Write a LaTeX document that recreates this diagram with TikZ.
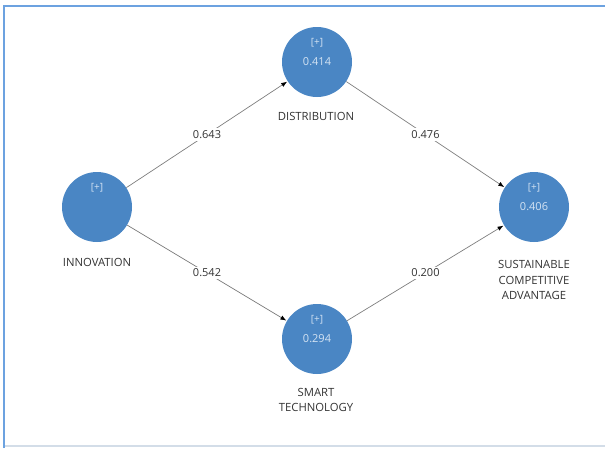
\documentclass[tikz,border=0pt]{standalone}
\usepackage{fontspec}
\setmainfont{Open Sans}
\usetikzlibrary{arrows.meta}
\definecolor{lvfill}{HTML}{4A86C4}
\definecolor{lvtext}{HTML}{D4E3F3}
\definecolor{lbgray}{HTML}{333333}
\definecolor{edgegray}{HTML}{7E7E7E}
\definecolor{frameblue}{HTML}{6CA2E0}
\definecolor{framelight}{HTML}{D3DDE8}
\begin{document}
\begin{tikzpicture}[x=1pt,y=-1pt,
    latent/.style={circle,fill=lvfill,minimum size=70pt,inner sep=0pt,
      text=lvtext,font=\fontsize{11}{13}\selectfont},
    plus/.style={text=lvtext,inner sep=0pt,font=\fontsize{10}{12}\selectfont},
    vname/.style={text=lbgray,align=center,inner sep=0pt,
      font=\fontsize{11.3}{15.5}\selectfont},
    relation/.style={draw=edgegray,line width=0.7pt,
      -{Latex[black,length=6pt,width=4.5pt]},shorten >=0.5pt},
    coef/.style={fill=white,text=lbgray,inner sep=2pt,
      font=\fontsize{11}{13}\selectfont}]
  \useasboundingbox (0,0) rectangle (605,448);
  % frame
  \draw[framelight,line width=1.5pt] (4,446) -- (605,446);
  \draw[frameblue,line width=2pt] (4,448) -- (4,6) -- (605,6);

  % constructs
  \node[latent] (inn) at (97,207) {};
  \node[latent] (dis) at (317,62) {0.414};
  \node[latent] (sca) at (534,207) {0.406};
  \node[latent] (smt) at (317,339) {0.294};

  \node[plus] (innp) at ([yshift=19pt]inn.center) {[+]};
  \node[plus] (disp) at ([yshift=19pt]dis.center) {[+]};
  \node[plus] (scap) at ([yshift=19pt]sca.center) {[+]};
  \node[plus] (smtp) at ([yshift=19pt]smt.center) {[+]};

  \node[vname] (innl) at (97,262) {INNOVATION};
  \node[vname] (disl) at (316,116) {DISTRIBUTION};
  \node[vname] (scal) at (534,280) {SUSTAINABLE\\COMPETITIVE\\ADVANTAGE};
  \node[vname] (smtl) at (316,400) {SMART\\TECHNOLOGY};

  % paths
  \draw[relation] (inn) -- node[coef] (c1) {0.643} (dis);
  \draw[relation] (inn) -- node[coef] (c2) {0.542} (smt);
  \draw[relation] (dis) -- node[coef] (c3) {0.476} (sca);
  \draw[relation] (smt) -- node[coef] (c4) {0.200} (sca);
\end{tikzpicture}
\end{document}
